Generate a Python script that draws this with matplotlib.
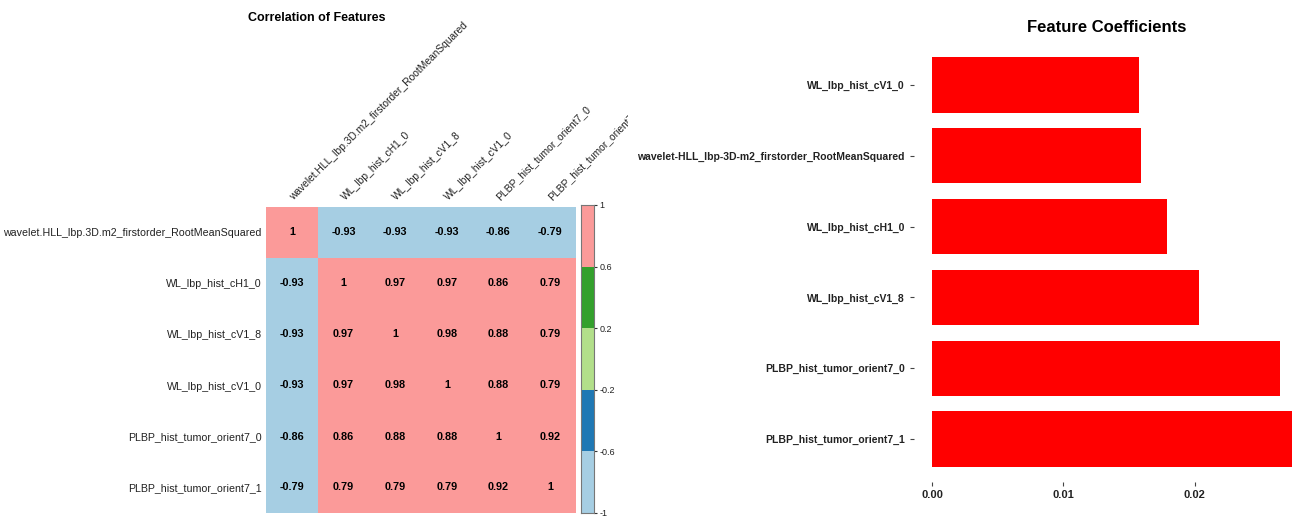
import numpy as np
import matplotlib
matplotlib.use("Agg")
import matplotlib.pyplot as plt
from matplotlib.colors import ListedColormap, BoundaryNorm
from matplotlib.patches import Rectangle

plt.rcParams['font.family'] = ['Liberation Sans', 'DejaVu Sans']

# --- correlation data ---
corr_labels = ["wavelet.HLL_lbp.3D.m2_firstorder_RootMeanSquared",
               "WL_lbp_hist_cH1_0",
               "WL_lbp_hist_cV1_8",
               "WL_lbp_hist_cV1_0",
               "PLBP_hist_tumor_orient7_0",
               "PLBP_hist_tumor_orient7_1"]
corr_values = np.array([
    [1.00, -0.93, -0.93, -0.93, -0.86, -0.79],
    [-0.93, 1.00, 0.97, 0.97, 0.86, 0.79],
    [-0.93, 0.97, 1.00, 0.98, 0.88, 0.79],
    [-0.93, 0.97, 0.98, 1.00, 0.88, 0.79],
    [-0.86, 0.86, 0.88, 0.88, 1.00, 0.92],
    [-0.79, 0.79, 0.79, 0.79, 0.92, 1.00],
])
cbar_bounds = [-1, -0.6, -0.2, 0.2, 0.6, 1]
cbar_colors = ["#A6CEE3", "#1F78B4", "#B2DF8A", "#33A02C", "#FB9A99"]

# --- coefficient data (top to bottom) ---
coef_labels = ["WL_lbp_hist_cV1_0",
               "wavelet-HLL_lbp-3D-m2_firstorder_RootMeanSquared",
               "WL_lbp_hist_cH1_0",
               "WL_lbp_hist_cV1_8",
               "PLBP_hist_tumor_orient7_0",
               "PLBP_hist_tumor_orient7_1"]
coef_values = [0.01575, 0.0159, 0.01785, 0.0203, 0.02645, 0.0276]
coef_ticks = [0.00, 0.01, 0.02]

W, H = 1292, 516
fig = plt.figure(figsize=(W / 100, H / 100), dpi=100)

def px(x0, y0, x1, y1):
    # pixel box (top-left origin) -> figure fraction rect
    return [x0 / W, 1 - y1 / H, (x1 - x0) / W, (y1 - y0) / H]

# ---------- correlation heatmap ----------
cmap = ListedColormap(cbar_colors)
norm = BoundaryNorm(cbar_bounds, cmap.N)
n = len(corr_labels)

ax = fig.add_axes(px(266, 207, 576, 513))
ax.pcolormesh(np.arange(n + 1), np.arange(n + 1), corr_values, cmap=cmap, norm=norm)
ax.set_xlim(0, n)
ax.set_ylim(n, 0)
for s in ax.spines.values():
    s.set_visible(False)
ax.set_xticks([])
ax.set_yticks(np.arange(n) + 0.5)
ax.set_yticklabels(corr_labels, fontsize=7.7, color="#222222")
ax.tick_params(axis='y', length=0, pad=3)

for i in range(n):
    for j in range(n):
        ax.text(j + 0.5, i + 0.5, f"{corr_values[i, j]:g}", ha='center', va='center',
                fontsize=7.8, fontweight='bold', color="black")

# column names run up to the right and get cut off at the panel edge
clip = Rectangle((0, 0), 628 / W, 1, transform=fig.transFigure)
for j, lab in enumerate(corr_labels):
    t = ax.text(j + 0.56, -0.1, lab, rotation=45, rotation_mode='anchor',
                ha='left', va='bottom', fontsize=7.4, color="#222222", clip_on=True)
    t.set_clip_path(clip)

fig.text(317 / W, 1 - 18 / H, "Correlation of Features", ha='center', va='center',
         fontsize=9, fontweight='bold')

# discrete colour key
cax = fig.add_axes(px(581, 205, 594, 513))
cax.pcolormesh([0, 1], cbar_bounds, np.array(cbar_bounds[:-1]).reshape(-1, 1) + 0.01,
               cmap=cmap, norm=norm)
cax.set_xlim(0, 1)
cax.set_ylim(-1, 1)
cax.set_xticks([])
cax.yaxis.tick_right()
cax.set_yticks(cbar_bounds)
cax.set_yticklabels([f"{b:g}" for b in cbar_bounds], fontsize=6.5, color="#222222")
cax.tick_params(axis='y', length=2, width=0.8, pad=2, color="#333333")
for s in cax.spines.values():
    s.set_color("#777777")
    s.set_linewidth(0.8)

# ---------- coefficient bar chart ----------
bx = fig.add_axes(px(914, 42.5, 1292, 481.5))
ypos = np.arange(len(coef_labels))
bx.barh(ypos, coef_values, height=0.78, color="#FF0000")
bx.set_xlim(-0.00138, 0.0274)
bx.set_ylim(len(coef_labels) - 0.4, -0.6)
bx.set_yticks(ypos)
bx.set_yticklabels(coef_labels, fontsize=7.5, fontweight='bold', color="#222222")
bx.set_xticks(coef_ticks)
bx.set_xticklabels([f"{v:.2f}" for v in coef_ticks], fontsize=8, fontweight='bold',
                   color="#222222")
bx.tick_params(axis='both', length=3, width=0.8, color="#444444")
bx.tick_params(axis='x', pad=3)
for s in bx.spines.values():
    s.set_visible(False)

fig.text(1107 / W, 1 - 27 / H, "Feature Coefficients", ha='center', va='center',
         fontsize=12, fontweight='bold')

fig.savefig("out.png", dpi=100)
